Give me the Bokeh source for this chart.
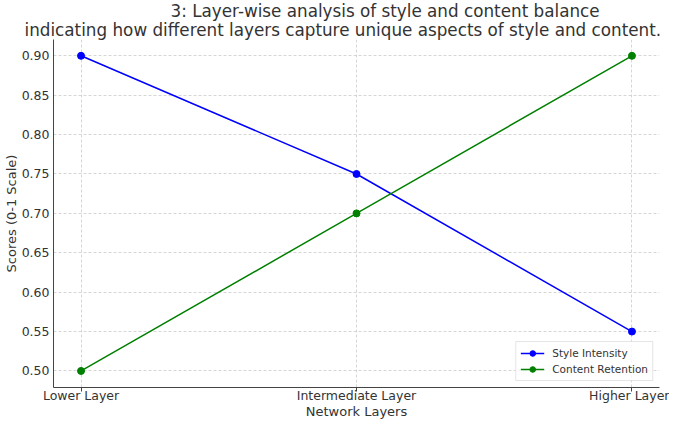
from bokeh.plotting import figure
from bokeh.models import FixedTicker, Title, Legend, LegendItem, Range1d, PrintfTickFormatter
from bokeh.embed import file_html
from bokeh.resources import INLINE

layers = ["Lower Layer", "Intermediate Layer", "Higher Layer"]
style_intensity = [0.90, 0.75, 0.55]
content_retention = [0.50, 0.70, 0.90]
y_ticks = [0.50, 0.55, 0.60, 0.65, 0.70, 0.75, 0.80, 0.85, 0.90]

xs = list(range(len(layers)))
TXT = "#333333"
FONT = "DejaVu Sans"

p = figure(width=669, height=421, output_backend="svg", toolbar_location=None,
           x_range=Range1d(-0.1, 2.1), y_range=Range1d(0.479, 0.9207),
           min_border_left=0, min_border_right=10, min_border_bottom=0, min_border_top=0)
p.outline_line_color = None

t2 = Title(text="indicating how different layers capture unique aspects of style and content.",
           align="left", offset=-29, text_font=FONT, text_font_size="16.8px", text_color=TXT,
           text_font_style="normal", standoff=-1, text_line_height=0.9)
t1 = Title(text="3: Layer-wise analysis of style and content balance",
           align="left", offset=117, text_font=FONT, text_font_size="16.8px", text_color=TXT,
           text_font_style="normal", standoff=-4, text_line_height=0.9)
p.add_layout(t2, "above")
p.add_layout(t1, "above")

r1 = p.line(xs, style_intensity, line_color="#0000ff", line_width=1.5)
c1 = p.scatter(xs, style_intensity, size=7, fill_color="#0000ff", line_color="#0000ff")
r2 = p.line(xs, content_retention, line_color="#008000", line_width=1.5)
c2 = p.scatter(xs, content_retention, size=7, fill_color="#008000", line_color="#008000")

p.xaxis.ticker = FixedTicker(ticks=xs)
p.xaxis.major_label_overrides = {i: l for i, l in enumerate(layers)}
p.yaxis.ticker = FixedTicker(ticks=y_ticks)
p.yaxis.formatter = PrintfTickFormatter(format="%.2f")

p.xaxis.axis_label = "Network Layers"
p.yaxis.axis_label = "Scores (0-1 Scale)"
for ax in (p.xaxis, p.yaxis):
    ax.axis_label_text_font = FONT
    ax.axis_label_text_font_size = "13px"
    ax.axis_label_text_font_style = "normal"
    ax.axis_label_text_color = TXT
    ax.major_label_text_font = FONT
    ax.major_label_text_font_size = "12.5px"
    ax.major_label_text_color = TXT
    ax.axis_line_color = "#444444"
    ax.major_tick_line_color = "#444444"
    ax.major_tick_in = 0
    ax.minor_tick_line_color = None
p.xaxis.major_tick_out = 4
p.xaxis.major_label_standoff = -4
p.xaxis.axis_label_standoff = -2
p.xaxis.major_label_text_line_height = 0.8
p.xaxis.axis_label_text_line_height = 0.8
p.yaxis.major_tick_out = 0
p.yaxis.major_label_standoff = 4
p.yaxis.axis_label_standoff = 0

p.grid.grid_line_color = "#cccccc"
p.grid.grid_line_dash = "3 2"
p.grid.grid_line_width = 0.8

legend = Legend(items=[LegendItem(label="Style Intensity", renderers=[r1, c1]),
                       LegendItem(label="Content Retention", renderers=[r2, c2])],
                location="bottom_right", label_text_font=FONT, label_text_font_size="10.5px",
                label_text_color=TXT, border_line_color="#cccccc", glyph_width=24,
                glyph_height=14, label_height=14, spacing=2, padding=4, margin=6,
                label_standoff=8, background_fill_alpha=0.8)
p.add_layout(legend, "center")

open("out.html", "w").write(file_html(p, INLINE))
